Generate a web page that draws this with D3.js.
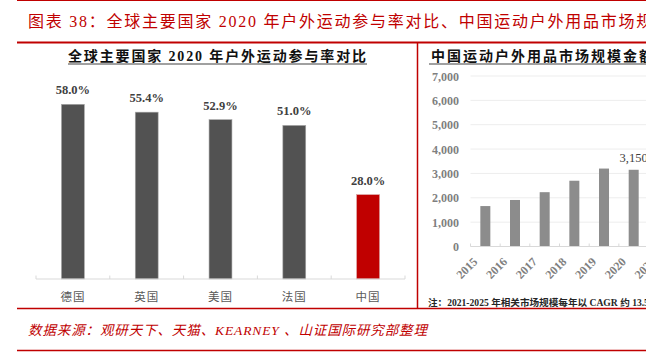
<!DOCTYPE html>
<html><head><meta charset="utf-8">
<script src="https://cdn.jsdelivr.net/npm/d3@7"></script>
<style>body{margin:0;background:#fff;overflow:hidden}svg{display:block}</style>
</head><body>
<svg id="c" width="646" height="355"></svg>
<script>
// ---- data ----
const countries = ["德国", "英国", "美国", "法国", "中国"];
const participation = [58.0, 55.4, 52.9, 51.0, 28.0];
const participationLabels = ["58.0%", "55.4%", "52.9%", "51.0%", "28.0%"];
const years = ["2015", "2016", "2017", "2018", "2019", "2020", "2021"];
const marketSize = [1660, 1910, 2230, 2700, 3200, 3150, 3570];
const marketLabels = ["", "", "", "", "", "3,150", ""];
const marketTicks = [0, 1000, 2000, 3000, 4000, 5000, 6000, 7000];

const mainTitle = "图表 38：全球主要国家 2020 年户外运动参与率对比、中国运动户外用品市场规模金额";
const leftTitle = "全球主要国家 2020 年户外运动参与率对比";
const rightTitle = "中国运动户外用品市场规模金额（亿元）";
const noteText = "注：2021-2025 年相关市场规模每年以 CAGR 约 13.5% 增长";
const sourceText = "数据来源：观研天下、天猫、KEARNEY 、山证国际研究部整理";

const SERIF = "'Liberation Serif','Noto Sans CJK SC',serif";
const RED = "#c00000";

const svg = d3.select("#c");

// ---- frame lines ----
svg.append("line").attr("x1", 17).attr("x2", 646).attr("y1", 0.5).attr("y2", 0.5)
  .attr("stroke", RED).attr("stroke-width", 1);
svg.append("line").attr("x1", 17).attr("x2", 646).attr("y1", 42.5).attr("y2", 42.5)
  .attr("stroke", RED).attr("stroke-width", 2);
svg.append("line").attr("x1", 417.5).attr("x2", 417.5).attr("y1", 42).attr("y2", 309)
  .attr("stroke", RED).attr("stroke-width", 1.5);
svg.append("line").attr("x1", 17).attr("x2", 646).attr("y1", 308.5).attr("y2", 308.5)
  .attr("stroke", RED).attr("stroke-width", 1.5);
svg.append("line").attr("x1", 17).attr("x2", 646).attr("y1", 350.5).attr("y2", 350.5)
  .attr("stroke", RED).attr("stroke-width", 1.5);

// ---- main title ----
svg.append("text").attr("x", 28).attr("y", 27)
  .attr("font-family", SERIF).attr("font-size", 16).attr("fill", RED)
  .attr("letter-spacing", 1.75)
  .text(mainTitle);

// ---- source ----
svg.append("text").attr("x", 28).attr("y", 335)
  .attr("font-family", SERIF).attr("font-size", 13.5).attr("fill", RED)
  .attr("font-style", "italic")
  .attr("textLength", 399).attr("lengthAdjust", "spacing")
  .text(sourceText);

// ---- left chart ----
svg.append("text").attr("x", 68).attr("y", 61)
  .attr("font-family", SERIF).attr("font-size", 14).attr("font-weight", "bold").attr("fill", "#111")
  .attr("textLength", 298).attr("lengthAdjust", "spacing")
  .text(leftTitle);
svg.append("line").attr("x1", 68).attr("x2", 367).attr("y1", 64).attr("y2", 64)
  .attr("stroke", "#808080").attr("stroke-width", 1.5);

const xL = d3.scaleBand().domain(countries).range([36, 405]).paddingInner(0.69).paddingOuter(0.345);
const yL = d3.scaleLinear().domain([0, 70]).range([279, 68.2]);

const gL = svg.append("g");
gL.selectAll("rect").data(countries).join("rect")
  .attr("x", d => xL(d)).attr("width", xL.bandwidth())
  .attr("y", (d, i) => yL(participation[i]))
  .attr("height", (d, i) => yL(0) - yL(participation[i]))
  .attr("fill", (d, i) => i === countries.length - 1 ? RED : "#525252")
  .attr("stroke", (d, i) => i === countries.length - 1 ? "#d9a0a0" : "#a6a6a6")
  .attr("stroke-width", 0.6);
gL.selectAll("text.v").data(countries).join("text").attr("class", "v")
  .attr("x", d => xL(d) + xL.bandwidth() / 2)
  .attr("y", (d, i) => yL(participation[i]) - 10)
  .attr("text-anchor", "middle")
  .attr("font-family", SERIF).attr("font-size", 12.5).attr("font-weight", "bold").attr("fill", "#404040")
  .text((d, i) => participationLabels[i]);
// baseline + ticks
gL.append("line").attr("x1", xL.range()[0]).attr("x2", xL.range()[1]).attr("y1", yL(0)).attr("y2", yL(0))
  .attr("stroke", "#d9d9d9").attr("stroke-width", 1);
gL.selectAll("line.t").data(d3.range(countries.length + 1)).join("line").attr("class", "t")
  .attr("x1", i => xL.range()[0] + i * xL.step()).attr("x2", i => xL.range()[0] + i * xL.step())
  .attr("y1", yL(0) - 3.5).attr("y2", yL(0)).attr("stroke", "#d9d9d9");
gL.selectAll("text.c").data(countries).join("text").attr("class", "c")
  .attr("x", d => xL(d) + xL.bandwidth() / 2).attr("y", 300.5)
  .attr("text-anchor", "middle")
  .attr("font-family", SERIF).attr("font-size", 11.5).attr("fill", "#595959")
  .attr("letter-spacing", 1)
  .text(d => d);

// ---- right chart ----
svg.append("defs").append("clipPath").attr("id", "rc")
  .append("rect").attr("x", 419).attr("y", 44).attr("width", 230).attr("height", 264);
const gR = svg.append("g").attr("clip-path", "url(#rc)");

gR.append("text").attr("x", 431).attr("y", 61)
  .attr("font-family", SERIF).attr("font-size", 14).attr("font-weight", "bold").attr("fill", "#111")
  .attr("letter-spacing", 2.0)
  .text(rightTitle);
gR.append("line").attr("x1", 429).attr("x2", 646).attr("y1", 64).attr("y2", 64)
  .attr("stroke", "#808080").attr("stroke-width", 1.5);

const xR = d3.scaleBand().domain(years).range([470.5, 470.5 + 29.67 * years.length])
  .paddingInner(0.663).paddingOuter(0.3315);
const yR = d3.scaleLinear().domain([0, 7000]).range([246.5, 76]);

// gridlines
gR.selectAll("line.g").data(marketTicks.filter(t => t > 0)).join("line").attr("class", "g")
  .attr("x1", 470.5).attr("x2", 700).attr("y1", d => yR(d)).attr("y2", d => yR(d))
  .attr("stroke", "#ededed").attr("stroke-width", 1);
// y axis labels
const axR = d3.axisLeft(yR).tickValues(marketTicks).tickSize(0).tickPadding(0)
  .tickFormat(d3.format(","));
const gAx = gR.append("g").attr("transform", "translate(459,0)").call(axR);
gAx.select(".domain").remove();
gAx.selectAll("text").attr("font-family", SERIF).attr("font-size", 12).attr("font-weight", "bold")
  .attr("fill", "#7f7f7f").attr("dy", "0.35em");

// bars
gR.selectAll("rect").data(years).join("rect")
  .attr("x", d => xR(d)).attr("width", xR.bandwidth())
  .attr("y", (d, i) => yR(marketSize[i]))
  .attr("height", (d, i) => yR(0) - yR(marketSize[i]))
  .attr("fill", "#8c8c8c");
gR.selectAll("text.v").data(years).join("text").attr("class", "v")
  .attr("x", d => xR(d) + xR.bandwidth() / 2)
  .attr("y", (d, i) => yR(marketSize[i]) - 8)
  .attr("text-anchor", "middle")
  .attr("font-family", SERIF).attr("font-size", 12.5).attr("fill", "#404040")
  .text((d, i) => marketLabels[i]);
// baseline + ticks
gR.append("line").attr("x1", 470.5).attr("x2", 700).attr("y1", yR(0)).attr("y2", yR(0))
  .attr("stroke", "#d9d9d9");
gR.selectAll("line.t").data(d3.range(years.length + 1)).join("line").attr("class", "t")
  .attr("x1", i => xR.range()[0] + i * xR.step()).attr("x2", i => xR.range()[0] + i * xR.step())
  .attr("y1", yR(0) - 3).attr("y2", yR(0)).attr("stroke", "#d9d9d9");
// rotated year labels
gR.selectAll("text.yr").data(years).join("text").attr("class", "yr")
  .attr("transform", d => `translate(${xR(d) + xR.bandwidth() / 2 - 7},${yR(0) + 16}) rotate(-45)`)
  .attr("text-anchor", "end")
  .attr("font-family", SERIF).attr("font-size", 12).attr("font-weight", "bold").attr("fill", "#7f7f7f")
  .text(d => d);
// note
gR.append("text").attr("x", 428).attr("y", 305.5)
  .attr("font-family", SERIF).attr("font-size", 9.6).attr("font-weight", "bold").attr("fill", "#262626")
  .text(noteText);
</script>
</body></html>
